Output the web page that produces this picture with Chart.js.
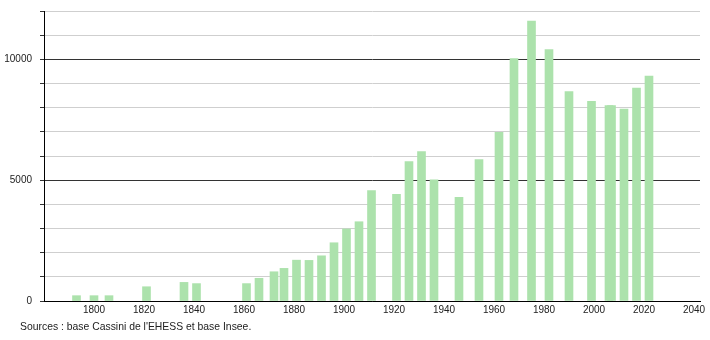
<!DOCTYPE html>
<html>
<head>
<meta charset="utf-8">
<script src="https://cdn.jsdelivr.net/npm/chart.js@4/dist/chart.umd.min.js"></script>
<style>
  html, body { margin: 0; padding: 0; background: #fff; }
  #wrap { position: relative; width: 710px; height: 340px; }
  #c { position: absolute; left: 0; top: 0; }
  #src { position: absolute; left: 20px; top: 321px; font: 10.4px "Liberation Sans", Arial, sans-serif; color: #222; white-space: nowrap; }
</style>
</head>
<body>
<div id="wrap">
  <canvas id="c" width="710" height="340"></canvas>
  <div id="src">Sources : base Cassini de l'EHESS et base Insee.</div>
</div>
<script>
const years = [1793, 1800, 1806, 1821, 1836, 1841, 1861, 1866, 1872, 1876, 1881, 1886, 1891, 1896, 1901, 1906, 1911, 1921, 1926, 1931, 1936, 1946, 1954, 1962, 1968, 1975, 1982, 1990, 1999, 2006, 2007, 2012, 2017, 2022];
const population = [220, 220, 220, 590, 770, 720, 720, 940, 1210, 1350, 1690, 1680, 1870, 2410, 2980, 3280, 4570, 4410, 5770, 6180, 5010, 4290, 5850, 6980, 10030, 11580, 10400, 8670, 8260, 8090, 8090, 7940, 8810, 9310];
const xTickYears = [1800, 1820, 1840, 1860, 1880, 1900, 1920, 1940, 1960, 1980, 2000, 2020, 2040];
const yLabelValues = [0, 5000, 10000];

const FONT = { family: "'Liberation Sans', Arial, sans-serif", size: 10 };

new Chart(document.getElementById('c'), {
  type: 'bar',
  data: {
    datasets: [{
      data: years.map((y, i) => ({ x: y, y: population[i] })),
      backgroundColor: 'rgb(172,226,172)',
      borderWidth: 0,
      barThickness: 8
    }]
  },
  options: {
    responsive: false,
    animation: false,
    devicePixelRatio: 1,
    layout: { padding: { left: 0, right: 10, top: 11, bottom: 19 } },
    plugins: { legend: { display: false }, tooltip: { enabled: false }, title: { display: false } },
    scales: {
      x: {
        type: 'linear',
        min: 1780,
        max: 2042.4,
        offset: false,
        grid: { display: false, offset: false, drawTicks: false },
        border: { display: true, color: '#000', width: 1 },
        afterBuildTicks: (scale) => { scale.ticks = xTickYears.map(v => ({ value: v })); },
        afterFit: (scale) => { scale.height = 20; scale.paddingLeft = 0; scale.paddingRight = 0; },
        ticks: {
          autoSkip: false,
          maxRotation: 0,
          padding: 3,
          color: '#222',
          font: FONT,
          callback: (v) => String(v)
        }
      },
      y: {
        min: 0,
        max: 12000,
        afterFit: (scale) => { scale.width = 44; scale.paddingTop = 0; scale.paddingBottom = 0; },
        border: { display: true, color: '#000', width: 1 },
        grid: {
          color: (ctx) => (ctx.tick && ctx.tick.value % 5000 === 0) ? '#333' : '#cfcfcf',
          lineWidth: 1,
          tickLength: 4,
          tickColor: '#333'
        },
        ticks: {
          stepSize: 1000,
          padding: 8,
          color: '#222',
          font: FONT,
          callback: (v) => yLabelValues.includes(v) ? String(v) : ''
        }
      }
    }
  }
});
</script>
</body>
</html>
